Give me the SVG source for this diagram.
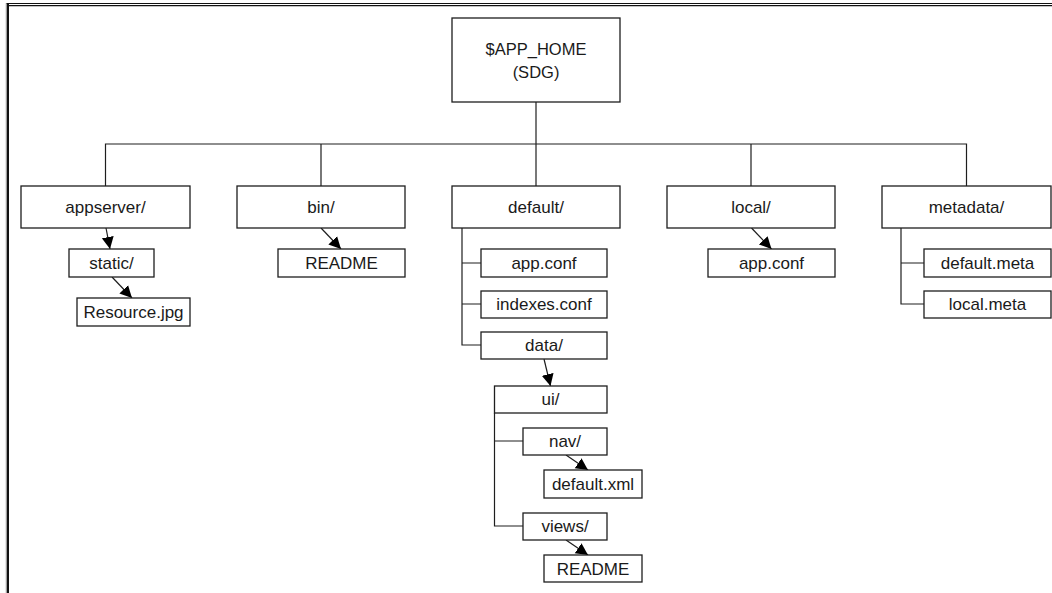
<svg xmlns="http://www.w3.org/2000/svg" width="1052" height="593" viewBox="0 0 1052 593">
<style>
.box{fill:#fff;stroke:#1e1e1e;stroke-width:1.3}
.lbl{font-family:"Liberation Sans",Arial,sans-serif;font-size:17px;fill:#1a1a1a;text-anchor:middle}
.home{font-size:16.5px}
.ln{fill:none;stroke:#1e1e1e;stroke-width:1.2}
.ar{fill:none;stroke:#1e1e1e;stroke-width:1.2;marker-end:url(#ah)}
</style>
<defs>
<marker id="ah" markerUnits="userSpaceOnUse" markerWidth="13" markerHeight="13" refX="12" refY="6.5" orient="auto" viewBox="0 0 13 13">
<path d="M0,0.5 L12,6.5 L0,12.5 z" fill="#000"/>
</marker>
</defs>
<rect width="1052" height="593" fill="#fff"/>
<g id="frame">
<line x1="6" y1="3.5" x2="1052" y2="3.5" stroke="#111" stroke-width="1.2"/>
<line x1="8" y1="5.7" x2="1052" y2="5.7" stroke="#111" stroke-width="1.2"/>
<line x1="6.3" y1="3" x2="6.3" y2="593" stroke="#888" stroke-width="1"/>
<line x1="8" y1="3" x2="8" y2="593" stroke="#111" stroke-width="2"/>
</g>
<g id="connectors">
<path class="ln" d="M536,102 V186"/>
<path class="ln" d="M105.5,186 V144 H966.5 V186"/>
<path class="ln" d="M321,144 V186 M751,144 V186"/>
<path class="ln" d="M462,228 V345 H481 M462,263 H481 M462,304 H481"/>
<path class="ln" d="M901,228 V304 H924 M901,263 H924"/>
<path class="ln" d="M494.5,413 V526 H523 M494.5,441 H523"/>
<path class="ar" d="M106,228 L110,249"/>
<path class="ar" d="M112,277 L132,298"/>
<path class="ar" d="M321,228 L341,249"/>
<path class="ar" d="M751.5,228 L771.5,249"/>
<path class="ar" d="M544,359 L550.5,386"/>
<path class="ar" d="M566,455 L588,470"/>
<path class="ar" d="M566,540 L588,555"/>
</g>
<g id="home"><rect class="box" x="452" y="18" width="168" height="84"/><text class="lbl home" x="536" y="55">$APP_HOME</text><text class="lbl home" x="536" y="78">(SDG)</text></g>
<g id="appserver"><rect class="box" x="21" y="186" width="169" height="42"/><text class="lbl" x="105.5" y="213">appserver/</text></g>
<g id="bin"><rect class="box" x="237" y="186" width="168" height="42"/><text class="lbl" x="321" y="213">bin/</text></g>
<g id="default"><rect class="box" x="452" y="186" width="168" height="42"/><text class="lbl" x="536" y="213">default/</text></g>
<g id="local"><rect class="box" x="667" y="186" width="168" height="42"/><text class="lbl" x="751" y="213">local/</text></g>
<g id="metadata"><rect class="box" x="882" y="186" width="169" height="42"/><text class="lbl" x="966.5" y="213">metadata/</text></g>
<g id="static"><rect class="box" x="69" y="249" width="85" height="28"/><text class="lbl" x="111.5" y="269">static/</text></g>
<g id="resource"><rect class="box" x="77" y="298" width="113" height="28"/><text class="lbl" x="133.5" y="318">Resource.jpg</text></g>
<g id="bin-readme"><rect class="box" x="278" y="249" width="127" height="28"/><text class="lbl" x="341.5" y="269">README</text></g>
<g id="default-appconf"><rect class="box" x="481" y="249" width="126" height="28"/><text class="lbl" x="544" y="269">app.conf</text></g>
<g id="indexes"><rect class="box" x="481" y="291" width="126" height="27"/><text class="lbl" x="544" y="310">indexes.conf</text></g>
<g id="data"><rect class="box" x="481" y="332" width="126" height="27"/><text class="lbl" x="544" y="351">data/</text></g>
<g id="ui"><rect class="box" x="494.5" y="386" width="112.5" height="27"/><text class="lbl" x="550.5" y="405">ui/</text></g>
<g id="nav"><rect class="box" x="523" y="428" width="84" height="27"/><text class="lbl" x="565" y="447">nav/</text></g>
<g id="default-xml"><rect class="box" x="544" y="470" width="98" height="28"/><text class="lbl" x="593" y="490">default.xml</text></g>
<g id="views"><rect class="box" x="523" y="513" width="84" height="27"/><text class="lbl" x="565" y="532">views/</text></g>
<g id="views-readme"><rect class="box" x="544" y="555" width="98" height="27"/><text class="lbl" x="593" y="575">README</text></g>
<g id="local-appconf"><rect class="box" x="708" y="249" width="127" height="28"/><text class="lbl" x="771.5" y="269">app.conf</text></g>
<g id="default-meta"><rect class="box" x="924" y="249" width="127" height="28"/><text class="lbl" x="987.5" y="269">default.meta</text></g>
<g id="local-meta"><rect class="box" x="924" y="291" width="127" height="27"/><text class="lbl" x="987.5" y="310">local.meta</text></g>
</svg>
